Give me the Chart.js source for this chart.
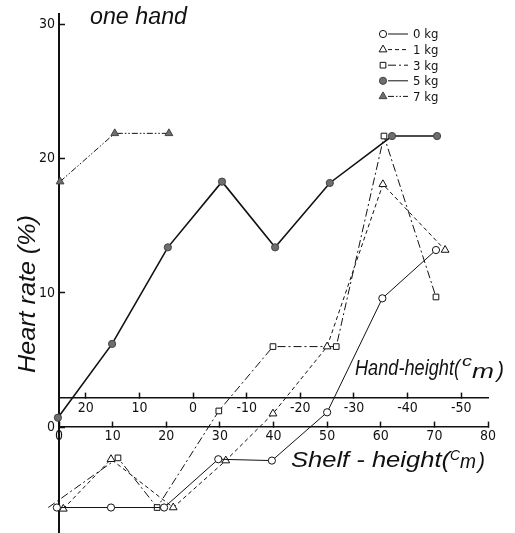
<!DOCTYPE html>
<html>
<head>
<meta charset="utf-8">
<script src="https://cdn.jsdelivr.net/npm/chart.js@4.4.1/dist/chart.umd.min.js"></script>
<style>
  html, body { margin: 0; padding: 0; background: #fff; }
</style>
</head>
<body>
<canvas id="chart" width="515" height="533"></canvas>
<script>
// values: shelf height (cm) and heart rate (%)
const kg0Shelf = [-0.4, 9.7, 19.6, 29.7, 39.7, 50.0, 60.3, 70.3];
const kg0Rate = [-6.0, -6.0, -6.0, -2.4, -2.5, 1.1, 9.6, 13.2];
const kg1Shelf = [0.8, 9.7, 21.3, 31.1, 39.9, 50.0, 60.4, 72.0];
const kg1Rate = [-6.1, -2.4, -6.0, -2.5, 1.0, 6.0, 18.1, 13.2];
const kg3Shelf = [-2.0, 11.0, 18.3, 29.8, 39.9, 51.7, 60.6, 70.3];
const kg3Rate = [-6.0, -2.3, -6.0, 1.2, 6.0, 6.0, 21.7, 9.7];
const kg5Shelf = [-0.2, 9.9, 20.3, 30.4, 40.3, 50.5, 62.1, 70.5];
const kg5Rate = [0.7, 6.2, 13.4, 18.3, 13.4, 18.2, 21.7, 21.7];
const kg7Shelf = [0.2, 10.4, 20.5];
const kg7Rate = [18.3, 21.9, 21.9];

const seriesNames = ['0 kg', '1 kg', '3 kg', '5 kg', '7 kg'];
const rateTicks = [0, 10, 20, 30];
const shelfTicks = [0, 10, 20, 30, 40, 50, 60, 70, 80];
const handTicks = [20, 10, 0, -10, -20, -30, -40, -50];

const NARROW = "'Liberation Sans Narrow', 'DejaVu Sans Condensed', 'Liberation Sans', sans-serif";
const INK = '#111';
const GREY = '#6e6e6e';

function points(xs, ys) {
  return xs.map((x, i) => ({ x, y: ys[i] }));
}

function series(label, xs, ys, style) {
  return Object.assign({
    label,
    data: points(xs, ys),
    borderColor: INK,
    borderWidth: 1,
    pointBorderColor: INK,
    pointBorderWidth: 1,
    pointBackgroundColor: '#fff',
    pointRadius: 3.6,
    pointHoverRadius: 3.6,
    tension: 0,
    clip: false,
    xAxisID: 'x',
    yAxisID: 'y',
  }, style);
}

const datasets = [
  series(seriesNames[0], kg0Shelf, kg0Rate, { pointStyle: 'circle' }),
  series(seriesNames[1], kg1Shelf, kg1Rate, { pointStyle: 'triangle', pointRadius: 4.5, borderDash: [4, 3] }),
  series(seriesNames[2], kg3Shelf, kg3Rate, { pointStyle: 'rect', pointRadius: 4, borderDash: [8, 3, 2, 3] }),
  series(seriesNames[3], kg5Shelf, kg5Rate, { pointStyle: 'circle', borderWidth: 1.6, pointBackgroundColor: GREY, pointBorderColor: '#444' }),
  series(seriesNames[4], kg7Shelf, kg7Rate, { pointStyle: 'triangle', pointRadius: 4.5, borderDash: [6, 2, 1.5, 2, 1.5, 2], pointBackgroundColor: GREY, pointBorderColor: '#444' }),
];

// the two x axes sit on values inside the plot, so they take no layout room
function flatX(scale) {
  scale.height = 0;
  scale.paddingLeft = scale.paddingRight = scale.paddingTop = scale.paddingBottom = 0;
}

function flatY(scale) {
  scale.width = 59;
  scale.paddingLeft = scale.paddingRight = scale.paddingTop = scale.paddingBottom = 0;
}

function setTicks(values) {
  return (scale) => { scale.ticks = values.map((v) => ({ value: v })); };
}

function drawFit(ctx, text, x, y, width, font) {
  ctx.font = font;
  const w = ctx.measureText(text).width;
  ctx.save();
  ctx.translate(x, y);
  ctx.scale(width / w, 1);
  ctx.fillText(text, 0, 0);
  ctx.restore();
}

const labelsPlugin = {
  id: 'labels',
  afterDraw(chart) {
    const ctx = chart.ctx;
    ctx.save();
    ctx.fillStyle = INK;
    ctx.textAlign = 'left';
    ctx.textBaseline = 'alphabetic';
    const it = (s) => `italic ${s}px 'Liberation Sans', Arial, sans-serif`;

    drawFit(ctx, 'one hand', 90, 24, 97, it(23));

    drawFit(ctx, 'Hand-height(', 355, 375, 105, it(22));
    drawFit(ctx, 'c', 462, 366, 10, it(15));
    drawFit(ctx, 'm', 472, 378, 22, it(20));
    drawFit(ctx, ')', 497, 377, 7, it(22));

    drawFit(ctx, 'Shelf - height(', 291, 467, 159, it(22));
    drawFit(ctx, 'C', 450, 460, 10, it(14));
    drawFit(ctx, 'm', 460, 468, 16, it(20));
    drawFit(ctx, ')', 478, 468, 7, it(22));

    ctx.save();
    ctx.translate(35, 373);
    ctx.rotate(-Math.PI / 2);
    drawFit(ctx, 'Heart rate (%)', 0, 0, 158, it(24));
    ctx.restore();

    // legend
    const rowY = 34, rowStep = 15.6;
    chart.data.datasets.forEach((ds, i) => {
      const y = rowY + i * rowStep;
      ctx.save();
      ctx.strokeStyle = INK;
      ctx.lineWidth = 1;
      ctx.setLineDash(ds.borderDash || []);
      ctx.beginPath();
      ctx.moveTo(388, y);
      ctx.lineTo(408, y);
      ctx.stroke();
      ctx.setLineDash([]);
      ctx.fillStyle = ds.pointBackgroundColor;
      ctx.strokeStyle = ds.pointBorderColor;
      Chart.helpers.drawPoint(ctx, {
        pointStyle: ds.pointStyle,
        radius: ds.pointRadius,
        rotation: 0,
        borderWidth: 1,
      }, 383, y);
      ctx.restore();
      ctx.fillStyle = INK;
      ctx.font = `13px ${NARROW}`;
      ctx.textBaseline = 'middle';
      ctx.fillText(ds.label, 413, y + 1);
    });
    ctx.restore();
  },
};

const axisGrid = { drawOnChartArea: false, drawTicks: true, tickLength: -6, tickWidth: 1.5, tickColor: INK };

new Chart(document.getElementById('chart'), {
  type: 'line',
  data: { datasets },
  options: {
    responsive: false,
    animation: false,
    events: [],
    layout: { autoPadding: false, padding: { left: 0, right: 27, top: 14, bottom: 0 } },
    plugins: { legend: { display: false }, tooltip: { enabled: false } },
    scales: {
      x: {
        type: 'linear',
        min: 0,
        max: 80,
        position: { y: 0 },
        grid: axisGrid,
        border: { display: true, color: INK, width: 1.6 },
        ticks: { color: INK, padding: 7, font: { size: 14, family: NARROW }, maxRotation: 0, callback: (v) => String(v) },
        afterBuildTicks: setTicks(shelfTicks),
        afterFit: flatX,
      },
      x2: {
        type: 'linear',
        min: -55,
        max: 25,
        reverse: true,
        position: { y: 2.2 },
        grid: axisGrid,
        border: { display: true, color: INK, width: 1.6 },
        ticks: { color: INK, padding: 8, font: { size: 14, family: NARROW }, maxRotation: 0, callback: (v) => String(v) },
        afterBuildTicks: setTicks(handTicks),
        afterFit: flatX,
      },
      y: {
        type: 'linear',
        min: -7.9,
        max: 30.8,
        position: 'left',
        grid: axisGrid,
        border: { display: true, color: INK, width: 2 },
        ticks: { color: INK, padding: 10, font: { size: 14, family: NARROW }, callback: (v) => String(v) },
        afterBuildTicks: setTicks(rateTicks),
        afterFit: flatY,
      },
    },
  },
  plugins: [labelsPlugin],
});
</script>
</body>
</html>
